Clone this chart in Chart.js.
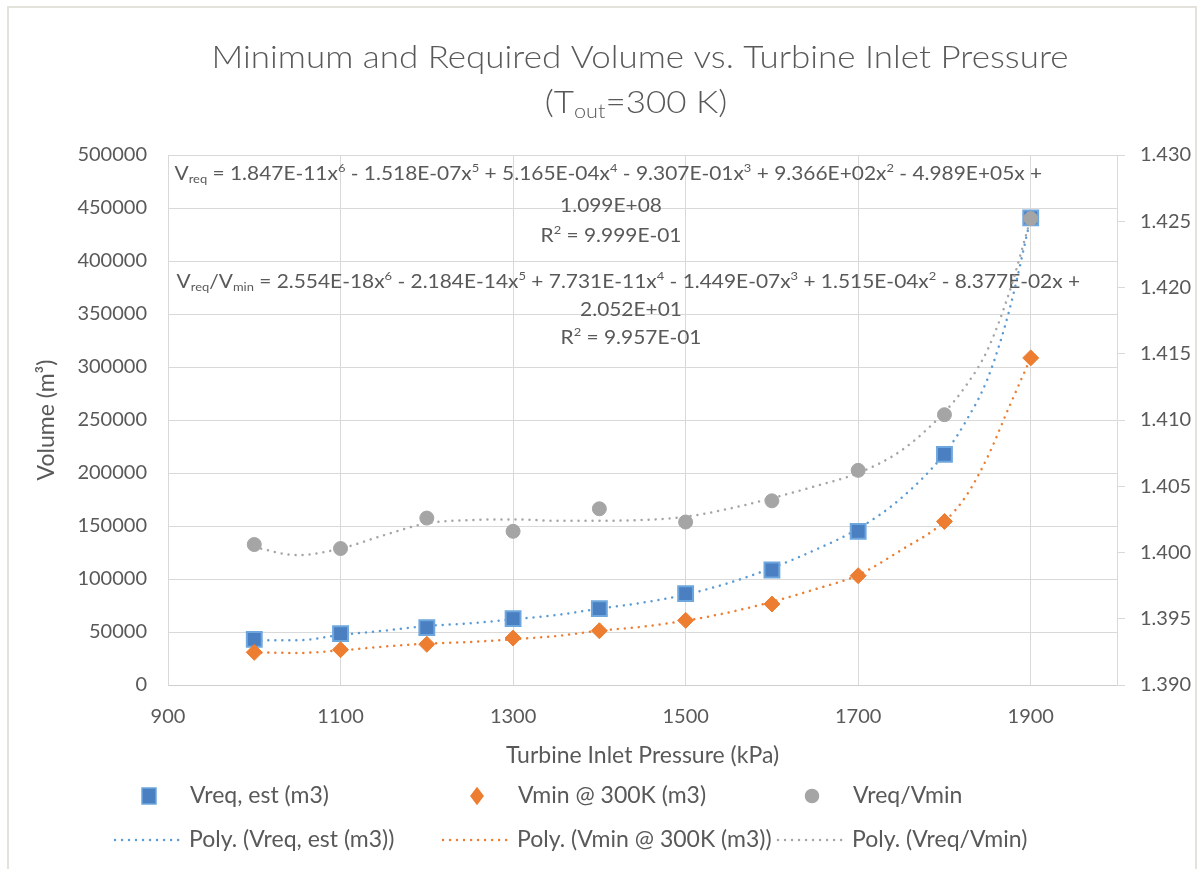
<!DOCTYPE html>
<html>
<head>
<meta charset="utf-8">
<script src="https://cdn.jsdelivr.net/npm/chart.js@4.4.1/dist/chart.umd.min.js"></script>
<style>
  html, body { margin: 0; padding: 0; background: #fff; }
  canvas { display: block; }
</style>
</head>
<body>
<canvas id="chart" width="1199" height="869"></canvas>
<script>
// measured points
const pressure = [1000, 1100, 1200, 1300, 1400, 1500, 1600, 1700, 1800, 1900];
const vReqEst = [43100, 48400, 54100, 62600, 72000, 86200, 108500, 144900, 217600, 440700];
const vMin300 = [30800, 33300, 38400, 44300, 51200, 61000, 76400, 103100, 154300, 308600];
const vRatio = [1.4006, 1.4003, 1.4026, 1.4016, 1.4033, 1.4023, 1.4039, 1.4062, 1.4104, 1.4252];

// trendlines
const trendPressure = [1000, 1050, 1100, 1150, 1200, 1250, 1300, 1350, 1400, 1450, 1500,
                       1550, 1600, 1650, 1700, 1750, 1800, 1825, 1850, 1875, 1900];
const vReqTrend = [42200, 42200, 47200, 51200, 55700, 58200, 62000, 66000, 72000, 77700, 85300,
                   96300, 110400, 127400, 147500, 176400, 218300, 249000, 289000, 353000, 440700];
const vMinTrend = [30800, 30200, 32700, 36200, 39000, 40600, 43100, 46200, 51200, 55000, 60700,
                   68500, 78500, 90300, 103800, 127400, 154300, 178300, 215100, 262300, 308600];
const vRatioTrend = [1.4004, 1.3998, 1.4003, 1.4013, 1.4022, 1.40245, 1.4025, 1.4024, 1.4024, 1.40245, 1.4027,
                     1.4033, 1.4041, 1.4050, 1.4060, 1.4077, 1.4106, 1.4126, 1.4153, 1.4196, 1.4252];

// axes
const xTicks = [900, 1100, 1300, 1500, 1700, 1900];
const volumeTicks = [0, 50000, 100000, 150000, 200000, 250000, 300000, 350000, 400000, 450000, 500000];
const ratioTicks = [1.390, 1.395, 1.400, 1.405, 1.410, 1.415, 1.420, 1.425, 1.430];

const seriesNames = ['Vreq, est (m3)', 'Vmin @ 300K (m3)', 'Vreq/Vmin'];
const trendNames = ['Poly. (Vreq, est (m3))', 'Poly. (Vmin @ 300K (m3))', 'Poly. (Vreq/Vmin)'];

const FONT = "Lato, 'Open Sans', sans-serif";
const TEXT = '#595959';
const BLUE = '#5b9bd5', ORANGE = '#ed7d31', GREY = '#a5a5a5';

function pts(xs, ys) {
  return xs.map(function (x, i) { return { x: x, y: ys[i] }; });
}

// rich text: parts are [text, 'n' | 'sub' | 'sup']
function richWidth(ctx, parts, size, weight) {
  let w = 0;
  parts.forEach(function (p) {
    const s = p[1] === 'n' ? size : size * 0.62;
    ctx.font = weight + ' ' + s + 'px ' + FONT;
    w += ctx.measureText(p[0]).width;
  });
  return w;
}
function drawRich(ctx, parts, cx, y, size, weight, sx) {
  const w = richWidth(ctx, parts, size, weight);
  ctx.save();
  ctx.translate(cx - w * sx / 2, y);
  ctx.scale(sx, 1);
  ctx.fillStyle = TEXT;
  ctx.textBaseline = 'middle';
  ctx.textAlign = 'left';
  let x = 0;
  parts.forEach(function (p) {
    const s = p[1] === 'n' ? size : size * 0.62;
    const dy = p[1] === 'sup' ? -size * 0.3 : (p[1] === 'sub' ? size * 0.28 : 0);
    ctx.font = weight + ' ' + s + 'px ' + FONT;
    ctx.fillText(p[0], x, dy);
    x += ctx.measureText(p[0]).width;
  });
  ctx.restore();
}

const title1 = [['Minimum and Required Volume vs. Turbine Inlet Pressure', 'n']];
const title2 = [['(T', 'n'], ['out', 'sub'], ['=300 K)', 'n']];

const eq1 = [['V', 'n'], ['req', 'sub'], [' = 1.847E-11x', 'n'], ['6', 'sup'], [' - 1.518E-07x', 'n'], ['5', 'sup'],
  [' + 5.165E-04x', 'n'], ['4', 'sup'], [' - 9.307E-01x', 'n'], ['3', 'sup'], [' + 9.366E+02x', 'n'], ['2', 'sup'],
  [' - 4.989E+05x + ', 'n']];
const eq1b = [['1.099E+08', 'n']];
const eq1c = [['R', 'n'], ['2', 'sup'], [' = 9.999E-01', 'n']];
const eq2 = [['V', 'n'], ['req', 'sub'], ['/V', 'n'], ['min', 'sub'], [' = 2.554E-18x', 'n'], ['6', 'sup'],
  [' - 2.184E-14x', 'n'], ['5', 'sup'], [' + 7.731E-11x', 'n'], ['4', 'sup'], [' - 1.449E-07x', 'n'], ['3', 'sup'],
  [' + 1.515E-04x', 'n'], ['2', 'sup'], [' - 8.377E-02x + ', 'n']];
const eq2b = [['2.052E+01', 'n']];
const eq2c = [['R', 'n'], ['2', 'sup'], [' = 9.957E-01', 'n']];

const decorations = {
  id: 'decorations',
  beforeDatasetsDraw: function (chart) {
    const ctx = chart.ctx;
    const sx = 873 / richWidth(ctx, eq1, 19, 400);
    drawRich(ctx, eq1, 611, 174, 19, 400, sx);
    drawRich(ctx, eq1b, 611, 206, 19, 400, sx);
    drawRich(ctx, eq1c, 611, 236, 19, 400, sx);
    drawRich(ctx, eq2, 631, 282, 19, 400, sx);
    drawRich(ctx, eq2b, 631, 310, 19, 400, sx);
    drawRich(ctx, eq2c, 631, 338, 19, 400, sx);
  },
  afterDraw: function (chart) {
    const ctx = chart.ctx;
    // outer frame
    ctx.save();
    ctx.strokeStyle = '#e3e3dc';
    ctx.lineWidth = 2;
    ctx.beginPath();
    ctx.moveTo(8, 869); ctx.lineTo(8, 7); ctx.lineTo(1196, 7); ctx.lineTo(1196, 869);
    ctx.stroke();
    ctx.restore();

    // title
    const tsx = 857 / richWidth(ctx, title1, 32, 300);
    drawRich(ctx, title1, 640, 58, 32, 300, tsx);
    drawRich(ctx, title2, 636, 103, 32, 300, tsx);

    // legend, 3 columns x 2 rows
    const ds = chart.data.datasets;
    const cols = [115, 443, 778];
    ctx.save();
    ctx.font = '23px ' + FONT;
    ctx.fillStyle = TEXT;
    ctx.textBaseline = 'middle';
    for (let i = 0; i < 3; i++) {
      const p = ds[2 - i];
      const mx = cols[i] + 34, my = 796;
      ctx.save();
      ctx.fillStyle = p.backgroundColor;
      ctx.strokeStyle = p.borderColor;
      ctx.lineWidth = 1.5;
      ctx.beginPath();
      if (p.pointStyle === 'rect') ctx.rect(mx - 7, my - 8, 14, 16);
      else if (p.pointStyle === 'rectRot') { ctx.moveTo(mx, my - 8); ctx.lineTo(mx + 6, my); ctx.lineTo(mx, my + 8); ctx.lineTo(mx - 6, my); ctx.closePath(); }
      else ctx.arc(mx, my, 6.5, 0, Math.PI * 2);
      ctx.fill(); ctx.stroke();
      ctx.restore();
      ctx.fillText(p.label, cols[i] + 75, my);

      const t = ds[3 + i];
      const ly = 840;
      ctx.save();
      ctx.strokeStyle = t.borderColor;
      ctx.lineWidth = 2.5;
      ctx.lineCap = 'round';
      ctx.setLineDash(t.borderDash);
      ctx.beginPath();
      ctx.moveTo(cols[i], ly); ctx.lineTo(cols[i] + 64, ly);
      ctx.stroke();
      ctx.restore();
      ctx.fillText(t.label, cols[i] + 74, ly);
    }
    ctx.restore();
  }
};

const trendStyle = {
  pointRadius: 0,
  borderWidth: 2.5,
  borderDash: [0.01, 7],
  borderCapStyle: 'round',
  cubicInterpolationMode: 'monotone',
  fill: false
};

const ctx = document.getElementById('chart');
new Chart(ctx, {
  type: 'line',
  data: {
    datasets: [
      { label: seriesNames[2], data: pts(pressure, vRatio), yAxisID: 'y2', showLine: false, order: 1,
        pointStyle: 'circle', pointRadius: 7, pointHoverRadius: 7, backgroundColor: GREY, borderColor: GREY, borderWidth: 1 },
      { label: seriesNames[1], data: pts(pressure, vMin300), yAxisID: 'y', showLine: false, order: 2,
        pointStyle: 'rectRot', pointRadius: 8, backgroundColor: ORANGE, borderColor: ORANGE, borderWidth: 1 },
      { label: seriesNames[0], data: pts(pressure, vReqEst), yAxisID: 'y', showLine: false, order: 3,
        pointStyle: 'rect', pointRadius: 10.5, backgroundColor: '#4a7fc1', borderColor: '#6ea6de', borderWidth: 2 },
      Object.assign({ label: trendNames[0], data: pts(trendPressure, vReqTrend), yAxisID: 'y', order: 4,
        borderColor: BLUE }, trendStyle),
      Object.assign({ label: trendNames[1], data: pts(trendPressure, vMinTrend), yAxisID: 'y', order: 5,
        borderColor: ORANGE }, trendStyle),
      Object.assign({ label: trendNames[2], data: pts(trendPressure, vRatioTrend), yAxisID: 'y2', order: 6,
        borderColor: GREY }, trendStyle)
    ]
  },
  options: {
    responsive: false,
    animation: false,
    devicePixelRatio: 1,
    layout: { padding: { top: 155, left: 0, right: 0, bottom: 0 } },
    plugins: {
      legend: { display: false },
      title: { display: false },
      tooltip: { enabled: false }
    },
    scales: {
      x: {
        type: 'linear',
        min: 900,
        max: 2000,
        afterBuildTicks: function (s) { s.ticks = xTicks.map(function (v) { return { value: v }; }); },
        afterFit: function (s) { s.height = 184; },
        grid: { color: '#d9d9d9', drawTicks: false },
        border: { color: '#cfcfcf' },
        ticks: { color: TEXT, font: { family: FONT, size: 20 }, padding: 20, maxRotation: 0,
                 callback: function (v) { return String(v); } },
        title: { display: true, text: 'Turbine Inlet Pressure (kPa)', color: TEXT,
                 font: { family: FONT, size: 23 }, padding: { top: 0, bottom: 100 } }
      },
      y: {
        position: 'left',
        min: 0,
        max: 500000,
        afterBuildTicks: function (s) { s.ticks = volumeTicks.map(function (v) { return { value: v }; }); },
        afterFit: function (s) { s.width = 168; },
        grid: { color: '#d9d9d9', drawTicks: false },
        border: { color: '#d9d9d9' },
        ticks: { color: TEXT, font: { family: FONT, size: 20 }, padding: 21,
                 callback: function (v) { return String(v); } },
        title: { display: true, text: 'Volume (m³)', color: TEXT,
                 font: { family: FONT, size: 23 }, padding: { top: 33, bottom: 0 } }
      },
      y2: {
        position: 'right',
        min: 1.39,
        max: 1.43,
        afterBuildTicks: function (s) { s.ticks = ratioTicks.map(function (v) { return { value: v }; }); },
        afterFit: function (s) { s.width = 82; },
        grid: { drawOnChartArea: false, color: '#d9d9d9', tickLength: 8 },
        border: { color: '#d9d9d9' },
        ticks: { color: TEXT, font: { family: FONT, size: 20 }, padding: 15,
                 callback: function (v) { return v.toFixed(3); } }
      }
    }
  },
  plugins: [decorations]
});
</script>
</body>
</html>
